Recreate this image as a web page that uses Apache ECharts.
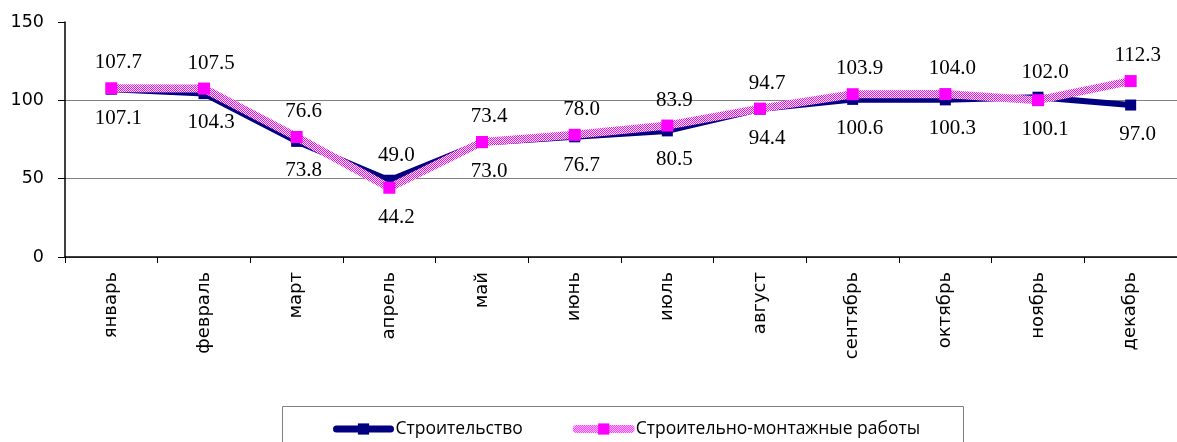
<!DOCTYPE html>
<html>
<head>
<meta charset="utf-8">
<script src="https://cdn.jsdelivr.net/npm/echarts@6/dist/echarts.min.js"></script>
<style>
  html, body { margin: 0; padding: 0; background: #ffffff; }
  #chart { width: 1177px; height: 442px; }
</style>
</head>
<body>
<div id="chart"></div>
<script>
// ---- data ----
const categories = ['январь', 'февраль', 'март', 'апрель', 'май', 'июнь', 'июль', 'август', 'сентябрь', 'октябрь', 'ноябрь', 'декабрь'];
const seriesNames = ['Строительство', 'Строительно-монтажные работы'];
const construction = [107.1, 104.3, 73.8, 49.0, 73.0, 76.7, 80.5, 94.4, 100.6, 100.3, 102.0, 97.0];
const constructionWorks = [107.7, 107.5, 76.6, 44.2, 73.4, 78.0, 83.9, 94.7, 103.9, 104.0, 100.1, 112.3];
const yTicks = [0, 50, 100, 150];

// ---- styles ----
const NAVY = '#000080';
const MAGENTA = '#FF00FF';

function checkerPattern() {
  const c = document.createElement('canvas');
  c.width = 2; c.height = 2;
  const ctx = c.getContext('2d');
  ctx.fillStyle = '#ffffff';
  ctx.fillRect(0, 0, 2, 2);
  ctx.fillStyle = MAGENTA;
  ctx.fillRect(0, 0, 1, 1);
  ctx.fillRect(1, 1, 1, 1);
  return { image: c, repeat: 'repeat' };
}
const pinkPattern = checkerPattern();

function buildItems(values, other) {
  return values.map((v, i) => {
    const above = v >= other[i];
    return {
      value: v,
      label: {
        position: above ? 'top' : 'bottom',
        distance: above ? 9 : 13
      }
    };
  });
}

const chart = echarts.init(document.getElementById('chart'), null, { renderer: 'canvas' });

const labelStyle = {
  show: true,
  fontFamily: '"Liberation Serif", "Times New Roman", serif',
  fontSize: 21,
  color: '#000',
  offset: [7, 0],
  formatter: p => p.value.toFixed(1)
};

chart.setOption({
  backgroundColor: '#ffffff',
  animation: false,
  grid: { left: 65, right: -4, top: 22, bottom: 185, containLabel: false },
  xAxis: {
    type: 'category',
    data: categories,
    boundaryGap: true,
    axisLine: { show: true, lineStyle: { color: '#000', width: 1.5 } },
    axisTick: { show: true, alignWithLabel: false, length: 6, lineStyle: { color: '#000' } },
    axisLabel: {
      rotate: 90,
      interval: 0,
      margin: 15,
      fontFamily: '"DejaVu Sans", Verdana, sans-serif',
      fontSize: 18,
      color: '#000'
    },
    splitLine: { show: false }
  },
  yAxis: {
    type: 'value',
    min: yTicks[0],
    max: yTicks[yTicks.length - 1],
    interval: yTicks[1] - yTicks[0],
    axisLine: { show: true, lineStyle: { color: '#000', width: 1.5 } },
    axisTick: { show: true, inside: false, length: 7, lineStyle: { color: '#000' } },
    axisLabel: {
      margin: 21,
      fontFamily: '"DejaVu Sans", Verdana, sans-serif',
      fontSize: 17.5,
      color: '#000'
    },
    splitLine: {
      show: true,
      lineStyle: { color: ['#808080', '#808080', '#808080', 'rgba(0,0,0,0)'], width: 1 }
    }
  },
  legend: {
    show: true,
    left: 333,
    top: 420,
    padding: 0,
    itemWidth: 54,
    itemHeight: 14,
    itemGap: 50,
    textStyle: {
      fontFamily: '"Open Sans", "Liberation Sans", sans-serif',
      fontSize: 17.5,
      color: '#000'
    },
    data: [
      { name: seriesNames[0], lineStyle: { width: 7, cap: 'round' } },
      { name: seriesNames[1], lineStyle: { width: 8, cap: 'round' } }
    ]
  },
  graphic: [
    {
      type: 'rect',
      silent: true,
      z: -1,
      shape: { x: 282.5, y: 406.5, width: 681, height: 60 },
      style: { fill: 'none', stroke: '#808080', lineWidth: 1 }
    }
  ],
  series: [
    {
      name: seriesNames[0],
      type: 'line',
      data: buildItems(construction, constructionWorks),
      symbol: 'rect',
      symbolSize: 11,
      itemStyle: { color: NAVY },
      lineStyle: { color: NAVY, width: 6, cap: 'round' },
      label: labelStyle,
      z: 2
    },
    {
      name: seriesNames[1],
      type: 'line',
      data: buildItems(constructionWorks, construction),
      symbol: 'rect',
      symbolSize: 12,
      itemStyle: { color: MAGENTA },
      lineStyle: { color: pinkPattern, width: 8, cap: 'round' },
      label: labelStyle,
      z: 3
    }
  ]
});
</script>
</body>
</html>
